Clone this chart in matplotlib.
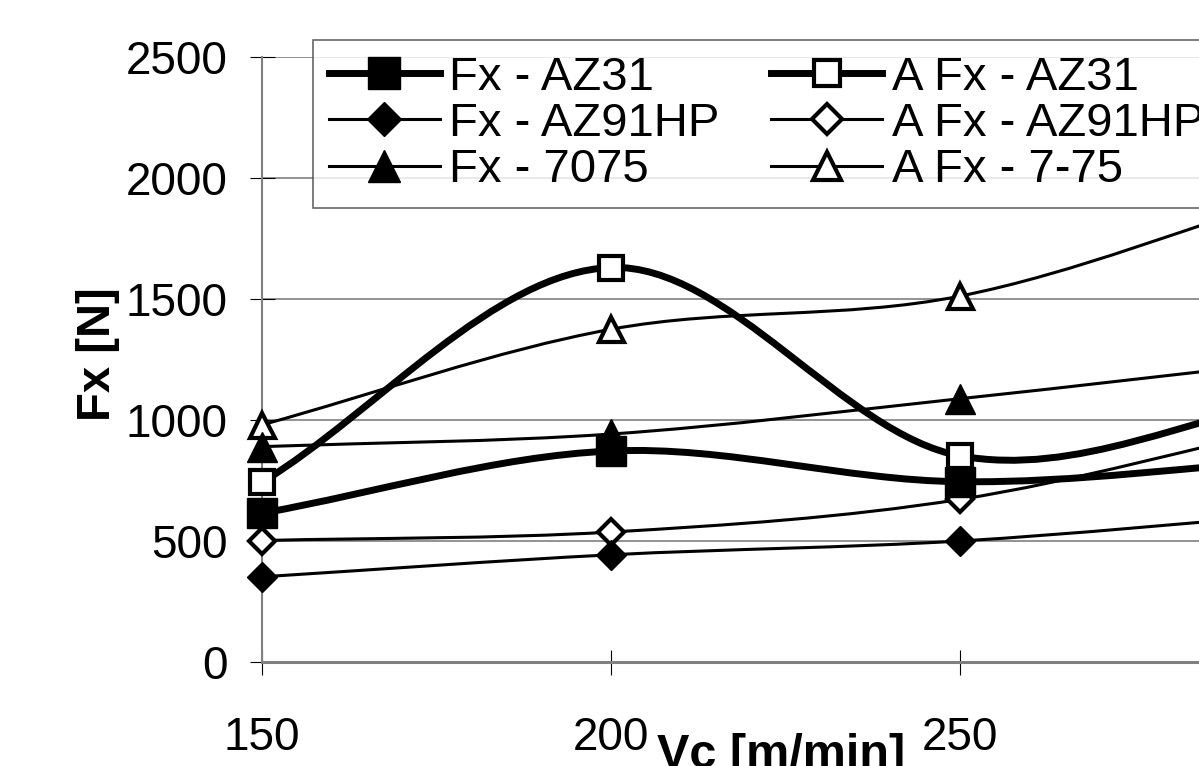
import numpy as np
import matplotlib
matplotlib.use("Agg")
import matplotlib.pyplot as plt
from matplotlib.path import Path
from matplotlib.patches import PathPatch
from matplotlib.lines import Line2D

plt.rcParams['font.family'] = ['Liberation Sans', 'DejaVu Sans']

# cutting speed [m/min] and force values
vc = [150, 200, 250, 300]
fx_az31 = [615, 872, 745, 840]
fx_az91hp = [352, 443, 500, 615]
fx_7075 = [890, 942, 1088, 1250]
a_fx_az31 = [742, 1630, 852, 1100]
a_fx_az91hp = [502, 537, 672, 990]
a_fx_775 = [980, 1375, 1512, 1950]

labels = ["Fx - AZ31", "Fx - AZ91HP", "Fx - 7075",
          "A Fx - AZ31", "A Fx - AZ91HP", "A Fx - 7-75"]
yticks = [0, 500, 1000, 1500, 2000, 2500]
xticks = [150, 200, 250, 300]


def smooth_path(x, y):
    # excel-like smoothed line as bezier segments through the data points
    p = np.column_stack([x, y]).astype(float)
    ext = np.vstack([2 * p[0] - p[1], p, 2 * p[-1] - p[-2]])
    verts = [p[0]]
    codes = [Path.MOVETO]
    for i in range(1, len(ext) - 2):
        c1 = ext[i] + (ext[i + 1] - ext[i - 1]) / 6
        c2 = ext[i + 1] - (ext[i + 2] - ext[i]) / 6
        verts += [c1, c2, ext[i + 1]]
        codes += [Path.CURVE4] * 3
    return Path(verts, codes)


# (values, marker, filled, line width, marker size)
series = [
    (fx_az31, 's', True, 5.0, 21),
    (fx_az91hp, 'D', True, 2.2, 15),
    (fx_7075, '^', True, 2.2, 21),
    (a_fx_az31, 's', False, 5.0, 17),
    (a_fx_az91hp, 'D', False, 2.2, 13),
    (a_fx_775, '^', False, 2.2, 18),
]

W, H = 1199, 766
fig = plt.figure(figsize=(W / 100, H / 100), dpi=100)
# plot area runs off the right side of the picture (x=300 is outside)
ax = fig.add_axes([262 / W, (H - 662) / H, (1309 - 262) / W, (662 - 57) / H])

handles = []
for (vals, mk, filled, lw, ms), lab in zip(series, labels):
    ax.add_patch(PathPatch(smooth_path(vc, vals), facecolor='none', edgecolor='black',
                           lw=lw, joinstyle='round', capstyle='round', zorder=2))
    mfc = 'black' if filled else 'white'
    mew = 1 if filled else 3
    ax.plot(vc, vals, ls='none', marker=mk, ms=ms, mfc=mfc, mec='black', mew=mew,
            zorder=4 if filled else 3, clip_on=False)
    handles.append(Line2D([], [], color='black', lw=lw, marker=mk, ms=ms + 2,
                          mfc=mfc, mec='black', mew=mew))

ax.set_xlim(150, 300)
ax.set_ylim(0, 2500)
ax.set_xticks(xticks)
ax.set_yticks(yticks)
ax.yaxis.grid(True, color='#808080', lw=1.2)
ax.set_axisbelow(True)

for s in ['top', 'right']:
    ax.spines[s].set_visible(False)
ax.spines['bottom'].set_color('#808080')
ax.spines['bottom'].set_linewidth(2.2)
ax.spines['left'].set_color('#808080')
ax.spines['left'].set_linewidth(1.5)

ax.tick_params(axis='both', direction='inout', length=18, width=0.8, color='black',
               labelsize=33)
ax.tick_params(axis='y', pad=16)
ax.tick_params(axis='x', pad=30)

ax.set_xlabel("Vc [m/min]", fontsize=35, fontweight='bold', va='top')
ax.xaxis.set_label_coords(0.496, -0.118)
ax.set_ylabel("Fx [N]", fontsize=34, fontweight='bold', va='center')
ax.yaxis.set_label_coords(-0.157, 0.509)

leg = fig.legend(handles, labels, ncol=2, loc='upper left',
                 bbox_to_anchor=(313 / W, 1 - 40 / H), borderaxespad=0,
                 fontsize=34, frameon=True, fancybox=False, handlelength=2.35,
                 handletextpad=0.2, columnspacing=1.1, labelspacing=0.05,
                 borderpad=0.33)
leg.get_frame().set_edgecolor('#404040')
leg.get_frame().set_linewidth(1.2)

fig.savefig("out.png", dpi=100)
